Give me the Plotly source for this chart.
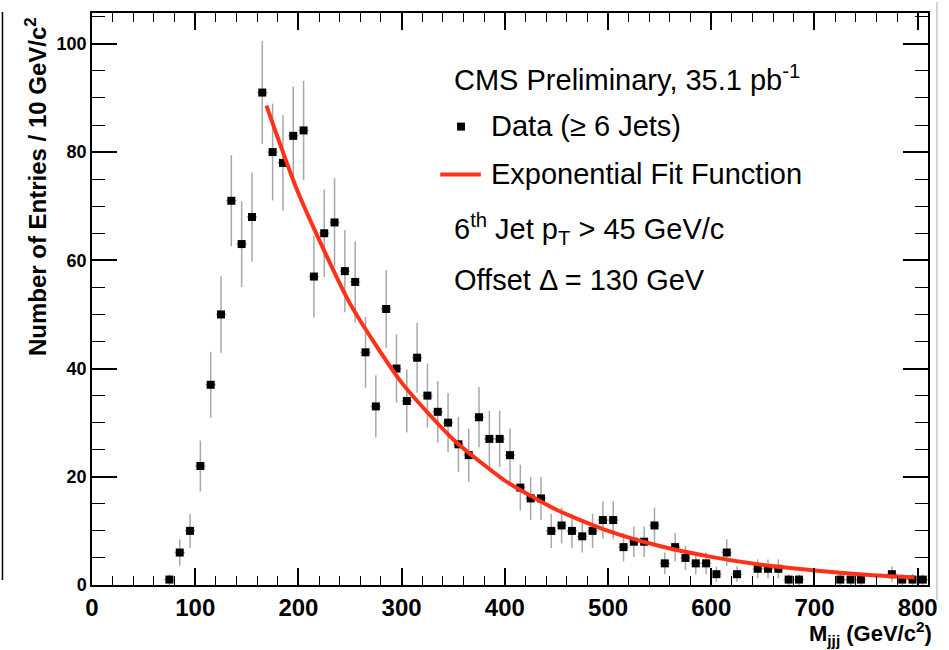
import plotly.graph_objects as go

# ---------------- data ----------------
mass_bins = [75, 85, 95, 105, 115, 125, 135, 145, 155, 165, 175, 185, 195, 205, 215,
             225, 235, 245, 255, 265, 275, 285, 295, 305, 315, 325, 335, 345, 355, 365,
             375, 385, 395, 405, 415, 425, 435, 445, 455, 465, 475, 485, 495, 505, 515,
             525, 535, 545, 555, 565, 575, 585, 595, 605, 615, 625, 635, 645, 655, 665,
             675, 685, 695, 705, 715, 725, 735, 745, 755, 765, 775, 785, 795, 805]
entries = [1, 6, 10, 22, 37, 50, 71, 63, 68, 91, 80, 78, 83, 84, 57,
           65, 67, 58, 56, 43, 33, 51, 40, 34, 42, 35, 32, 30, 26, 24,
           31, 27, 27, 24, 18, 16, 16, 10, 11, 10, 9, 10, 12, 12, 7,
           8, 8, 11, 4, 7, 5, 4, 4, 2, 6, 2, 0, 3, 3, 3,
           1, 1, 0, 0, 0, 1, 1, 1, 0, 0, 2, 1, 1, 1]

fit_mass = [169, 200, 250, 300, 350, 400, 450, 500, 550, 600, 650, 700, 750, 797]
fit_entries = [88.6, 72.4, 52.0, 37.4, 26.9, 19.3, 13.9, 10.0, 7.2, 5.2, 3.7, 2.7, 1.9, 1.4]

x_ticks = [0, 100, 200, 300, 400, 500, 600, 700, 800]
y_ticks = [0, 20, 40, 60, 80, 100]

# ---------------- geometry ----------------
W, H = 949, 650
L, R, T, B = 92, 12, 11, 65
PW, PH = W - L - R, H - T - B


def px(xp):
    return (xp - L) / PW


def py(yp):
    return (H - B - yp) / PH


pts = [(m, n) for m, n in zip(mass_bins, entries) if n > 0]
x = [p[0] for p in pts]
y = [p[1] for p in pts]
err_y = [n ** 0.5 for n in y]
err_x = [5] * len(x)

FONT = "Liberation Sans, Arial, Helvetica, sans-serif"
RED = "#ff3118"
GREY = "#a8a8a8"

fig = go.Figure()
fig.add_trace(go.Scatter(
    x=x, y=y, mode="markers",
    marker=dict(symbol="square", size=8, color="black", line=dict(width=0)),
    error_y=dict(type="data", array=err_y, color=GREY, thickness=1.5, width=0),
    error_x=dict(type="data", array=err_x, color=GREY, thickness=1.5, width=0),
    showlegend=False, hoverinfo="x+y"))
fig.add_trace(go.Scatter(
    x=fit_mass, y=fit_entries, mode="lines",
    line=dict(color=RED, width=4, shape="spline", smoothing=0.6),
    showlegend=False))

axis_common = dict(showgrid=False, zeroline=False, showline=True, linecolor="black",
                   linewidth=1.5, mirror="ticks", ticks="inside", tickcolor="black",
                   tickwidth=1.5)

fig.update_xaxes(range=[0, 810], tickvals=x_ticks, ticklen=17,
                 minor=dict(ticks="inside", ticklen=9, dtick=20, tick0=0,
                            tickcolor="black", tickwidth=1, showgrid=False),
                 tickfont=dict(family=FONT, size=24, color="black", weight="bold"),
                 **axis_common)
fig.update_yaxes(range=[0, 105.7], tickvals=y_ticks, ticklen=25,
                 minor=dict(ticks="inside", ticklen=13, dtick=5, tick0=0,
                            tickcolor="black", tickwidth=1, showgrid=False),
                 tickfont=dict(family=FONT, size=18, color="black", weight="bold"),
                 **axis_common)

ann = []
# axis titles
ann.append(dict(text="Number of Entries / 10 GeV/c<sup>2</sup>", textangle=-90,
                x=px(36), y=py(13), xref="paper", yref="paper", xanchor="center",
                yanchor="top", showarrow=False,
                font=dict(family=FONT, size=24, color="black", weight="bold")))
ann.append(dict(text="M<sub>jjj</sub> (GeV/c<sup>2</sup>)",
                x=px(943), y=py(634), xref="paper", yref="paper", xanchor="right",
                yanchor="middle", showarrow=False,
                font=dict(family=FONT, size=22, color="black", weight="bold")))
# legend / labels
leg_font = dict(family=FONT, size=29, color="black")
for txt, lx, ly in [("CMS Preliminary, 35.1 pb<sup>-1</sup>", 456, 76),
                    ("Data (\u2265 6 Jets)", 493, 124),
                    ("Exponential Fit Function", 493, 173),
                    ("6<sup>th</sup> Jet p<sub>T</sub> &gt; 45 GeV/c", 456, 228),
                    ("Offset \u0394 = 130 GeV", 456, 279)]:
    ann.append(dict(text=txt, x=px(lx), y=py(ly), xref="paper", yref="paper",
                    xanchor="left", yanchor="middle", showarrow=False, font=leg_font))

shapes = []
# legend marker
shapes.append(dict(type="rect", xref="paper", yref="paper",
                   x0=px(461), x1=px(469), y0=py(129), y1=py(121),
                   fillcolor="black", line=dict(width=0)))
# legend line
shapes.append(dict(type="line", xref="paper", yref="paper",
                   x0=px(444), x1=px(485), y0=py(173), y1=py(173),
                   line=dict(color=RED, width=4)))
# edges of neighbouring panels in the source picture
shapes.append(dict(type="line", xref="paper", yref="paper",
                   x0=px(1.5), x1=px(1.5), y0=py(10), y1=py(580),
                   line=dict(color="black", width=1.5)))
shapes.append(dict(type="line", xref="paper", yref="paper",
                   x0=px(946), x1=px(946), y0=py(0), y1=py(600),
                   line=dict(color="#c8c8c8", width=1.5)))

fig.update_layout(width=W, height=H, margin=dict(l=L, r=R, t=T, b=B),
                  plot_bgcolor="white", paper_bgcolor="white", showlegend=False,
                  font=dict(family=FONT, color="black"),
                  annotations=ann, shapes=shapes)

fig.write_html("out.html")
